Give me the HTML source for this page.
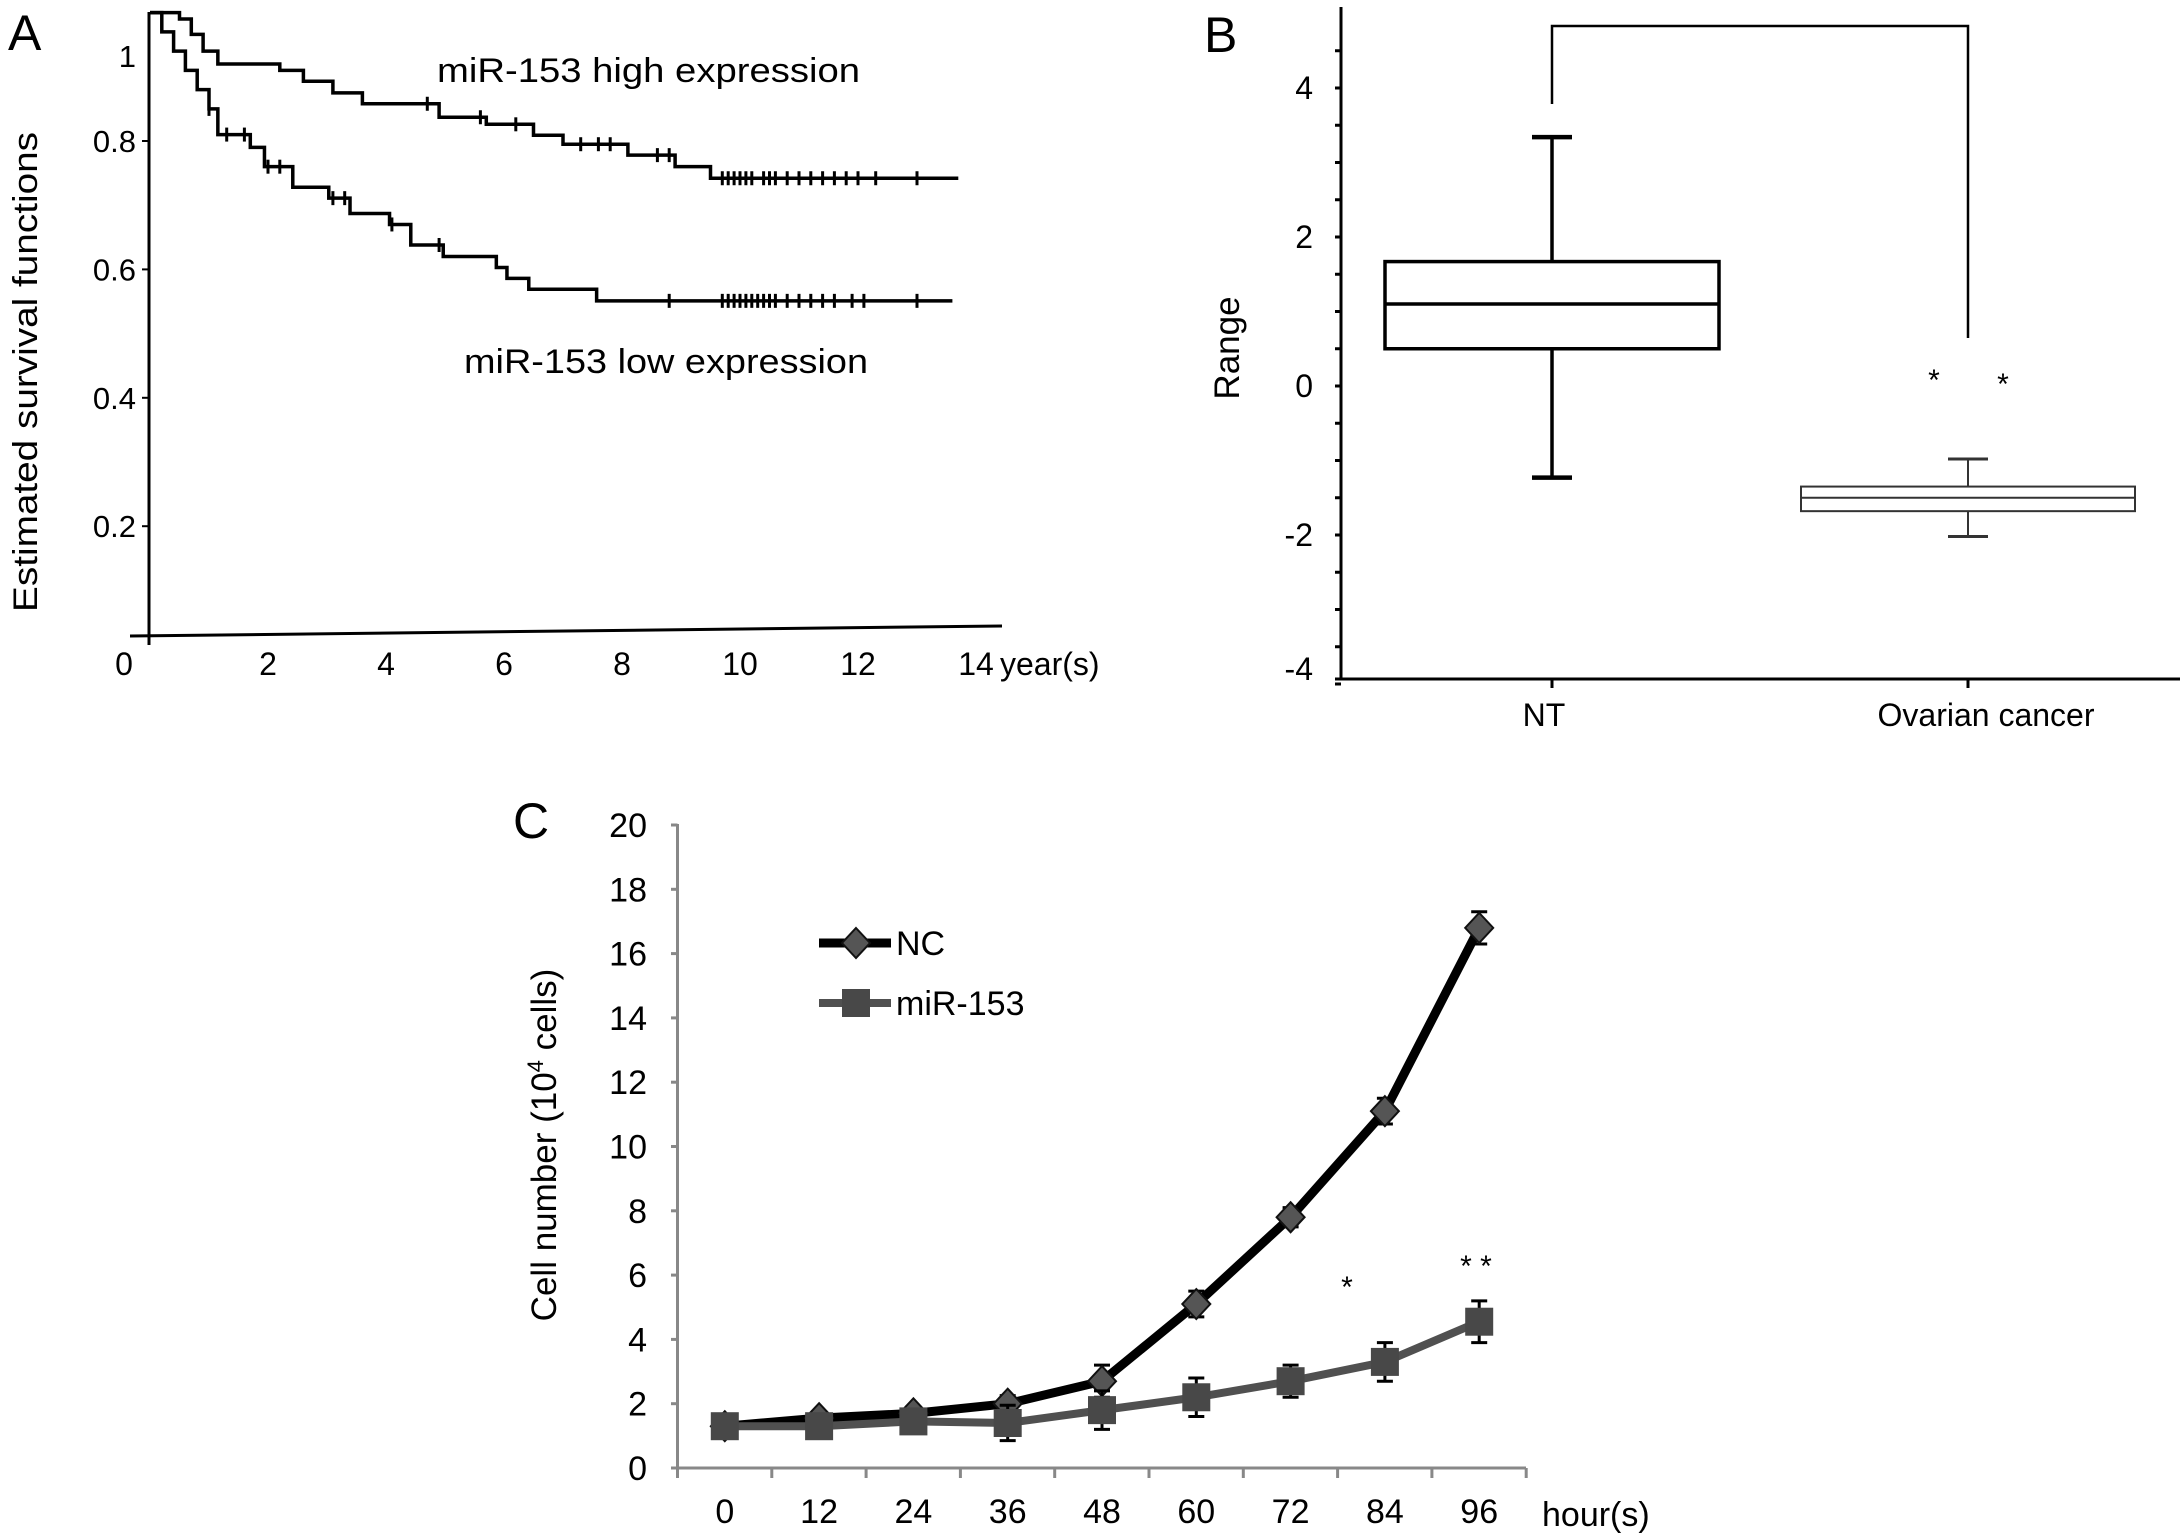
<!DOCTYPE html>
<html><head><meta charset="utf-8">
<style>
html,body{margin:0;padding:0;background:#fff;overflow:hidden;}
svg{display:block;font-family:"Liberation Sans",sans-serif;}
</style></head>
<body>
<svg id="fig" width="2184" height="1537" viewBox="0 0 2184 1537" xmlns="http://www.w3.org/2000/svg">
<g id="pa"></g>
<g id="pb"></g>
<g id="pc"></g>
</svg>
<script>
// ---------- Panel A data ----------
const aXTicks = [0,2,4,6,8,10,12,14];
const aYTicks = [0.2,0.4,0.6,0.8];
const highSteps = [[0,1.0],[0.5,0.99],[0.7,0.966],[0.9,0.94],[1.15,0.92],[2.2,0.91],[2.6,0.893],[3.1,0.875],[3.6,0.858],[4.9,0.837],[5.7,0.826],[6.5,0.809],[7.0,0.795],[8.1,0.778],[8.9,0.76],[9.5,0.742]];
const highEnd = 13.7;
const highCensor = [4.7,5.6,6.2,7.3,7.6,7.8,8.6,8.8,9.7,9.8,9.9,10.0,10.1,10.2,10.4,10.5,10.6,10.8,11.0,11.2,11.4,11.6,11.8,12.0,12.3,13.0];
const lowSteps = [[0,1.0],[0.2,0.97],[0.4,0.94],[0.6,0.91],[0.8,0.88],[1.0,0.85],[1.15,0.81],[1.7,0.79],[1.94,0.76],[2.42,0.728],[3.03,0.711],[3.39,0.687],[4.06,0.67],[4.42,0.638],[4.97,0.62],[5.87,0.603],[6.05,0.586],[6.42,0.569],[7.57,0.551]];
const lowEnd = 13.6;
const lowCensor = [1.0,1.3,1.6,2.0,2.2,3.1,3.3,4.1,4.9,8.8,9.7,9.8,9.9,10.0,10.1,10.2,10.3,10.4,10.5,10.6,10.8,11.0,11.2,11.4,11.6,11.9,12.1,13.0];
// ---------- Panel B data ----------
const bCats = ["NT","Ovarian  cancer"];
const bYTicks = [4,2,0,-2,-4];
const bQ3 = [1.67,-1.35];
const bMed = [1.1,-1.5];
const bQ1 = [0.5,-1.68];
const bMax = [3.34,-0.98];
const bMin = [-1.23,-2.02];
// ---------- Panel C data ----------
const cCats = ["0","12","24","36","48","60","72","84","96"];
const cYTicks = [0,2,4,6,8,10,12,14,16,18,20];
const ncVals = [1.3,1.55,1.7,2.0,2.7,5.1,7.8,11.1,16.8];
const ncErr = [0.1,0.2,0.2,0.25,0.5,0.4,0.3,0.4,0.5];
const miVals = [1.3,1.3,1.45,1.4,1.8,2.2,2.7,3.3,4.55];
const miErr = [0.1,0.2,0.2,0.55,0.6,0.6,0.5,0.6,0.65];

const NS="http://www.w3.org/2000/svg";
function mk(parent, tag, attrs, text){
  const e=document.createElementNS(NS,tag);
  for(const k in attrs) e.setAttribute(k,attrs[k]);
  if(text!==undefined) e.textContent=text;
  parent.appendChild(e); return e;
}

// ===== Panel A =====
(function(){
  const g=document.getElementById('pa');
  const X=t=>150+59*t;
  const Y=v=>141-(v-0.8)*642;
  let e;
  e=mk(g,'text',{x:8,y:50,'font-size':50,transform:'scale(1,1)'},'A');
  
  
  e=mk(g,'line',{x1:149,y1:12,x2:149,y2:645,stroke:'#000','stroke-width':3});
  
  
  e=mk(g,'line',{x1:130,y1:636,x2:1002,y2:626,stroke:'#000','stroke-width':3});
  
  
  aXTicks.forEach(t=>{
    const tx=mk(g,'text',{x:t===0?124:X(t),y:675,'font-size':32,'text-anchor':'middle'},String(t));
    
    
  });
  e=mk(g,'text',{x:1000,y:675,'font-size':32},'year(s)');
  
  
  aYTicks.forEach(v=>{
    const tk=mk(g,'line',{x1:142,y1:Y(v),x2:149,y2:Y(v),stroke:'#000','stroke-width':2});
    
    
    const tx=mk(g,'text',{x:136,y:Y(v)+11,'font-size':31,'text-anchor':'end'},String(v));
    
    
  });
  e=mk(g,'text',{x:136,y:67,'font-size':31,'text-anchor':'end'},'1');
  
  
  e=mk(g,'text',{x:0,y:0,'font-size':34,'text-anchor':'middle',transform:'translate(37,372) rotate(-90)',textLength:480,lengthAdjust:'spacingAndGlyphs'},'Estimated survival  functions');
  
  
  function curve(steps,end,cens,name){
    let d='M'+X(steps[0][0])+' '+Y(steps[0][1]);
    for(let i=1;i<steps.length;i++){
      d+=' H'+X(steps[i][0])+' V'+Y(steps[i][1]);
    }
    d+=' H'+X(end);
    const p=mk(g,'path',{d:d,fill:'none',stroke:'#000','stroke-width':3.5});
    
    
    cens.forEach(t=>{
      let v=steps[0][1];
      steps.forEach(s=>{if(s[0]<=t)v=s[1];});
      const c=mk(g,'line',{x1:X(t),y1:Y(v)-7,x2:X(t),y2:Y(v)+7,stroke:'#000','stroke-width':3});
      
      
    });
  }
  curve(highSteps,highEnd,highCensor,'high-expression-curve');
  curve(lowSteps,lowEnd,lowCensor,'low-expression-curve');
  e=mk(g,'text',{x:437,y:82,'font-size':34,textLength:423,lengthAdjust:'spacingAndGlyphs'},'miR-153  high expression');
  
  
  e=mk(g,'text',{x:464,y:373,'font-size':34,textLength:404,lengthAdjust:'spacingAndGlyphs'},'miR-153  low expression');
  
  
})();

// ===== Panel B =====
(function(){
  const g=document.getElementById('pb');
  const Y=v=>386-74.5*v;
  const cx=[1552,1968];
  const halfW=[167,167];
  let e;
  e=mk(g,'text',{x:1204,y:52,'font-size':50},'B');
  
  
  e=mk(g,'line',{x1:1341,y1:7,x2:1341,y2:680,stroke:'#000','stroke-width':3});
  
  
  e=mk(g,'line',{x1:1335,y1:679,x2:2180,y2:679,stroke:'#000','stroke-width':3});
  
  
  for(let v=-4;v<=4.5;v+=0.5){
    const tk=mk(g,'line',{x1:1335,y1:Y(v),x2:1341,y2:Y(v),stroke:'#000','stroke-width':3});
    
    
  }
  bYTicks.forEach(v=>{
    const tx=mk(g,'text',{x:1313,y:Y(v)+(v===-4?-4:11),'font-size':32,'text-anchor':'end'},String(v));
    
    
  });
  e=mk(g,'text',{x:0,y:0,'font-size':35,'text-anchor':'middle',transform:'translate(1239,348) rotate(-90)'},'Range');
  
  
  bCats.forEach((c,i)=>{
    const tk=mk(g,'line',{x1:cx[i],y1:679,x2:cx[i],y2:688,stroke:'#000','stroke-width':3});
    
    
    const tx=mk(g,'text',{x:cx[i]+(i===1?18:-8),y:726,'font-size':32,'text-anchor':'middle'},c);
    
    
    const sw=i===0?3.5:2, col=i===0?'#000':'#333';
    const wk=mk(g,'line',{x1:cx[i],y1:Y(bMax[i]),x2:cx[i],y2:Y(bMin[i]),stroke:col,'stroke-width':sw});
    
    
    [bMax[i],bMin[i]].forEach(v=>{
      const cap=mk(g,'line',{x1:cx[i]-20,y1:Y(v),x2:cx[i]+20,y2:Y(v),stroke:col,'stroke-width':sw+1});
      
      
    });
    const bx=mk(g,'rect',{x:cx[i]-halfW[i],y:Y(bQ3[i]),width:2*halfW[i],height:Y(bQ1[i])-Y(bQ3[i]),fill:'#fff',stroke:col,'stroke-width':sw});
    
    
    const md=mk(g,'line',{x1:cx[i]-halfW[i],y1:Y(bMed[i]),x2:cx[i]+halfW[i],y2:Y(bMed[i]),stroke:col,'stroke-width':sw});
    
    
  });
  e=mk(g,'path',{d:'M1552 104 V26 H1968 V338',fill:'none',stroke:'#000','stroke-width':2.5});
  
  
  e=mk(g,'text',{x:1934,y:390,'font-size':30,'text-anchor':'middle'},'*');
  
  
  e=mk(g,'text',{x:2003,y:394,'font-size':30,'text-anchor':'middle'},'*');
  
  
})();

// ===== Panel C =====
(function(){
  const g=document.getElementById('pc');
  const X=i=>724.8+94.3*i;
  const Y=v=>1468-32.15*v;
  let e;
  e=mk(g,'text',{x:513,y:838,'font-size':50},'C');
  
  
  e=mk(g,'line',{x1:677.5,y1:824,x2:677.5,y2:1469,stroke:'#888','stroke-width':3});
  
  
  e=mk(g,'line',{x1:671,y1:1468,x2:1526,y2:1468,stroke:'#888','stroke-width':3});
  
  
  cYTicks.forEach(v=>{
    const tk=mk(g,'line',{x1:671,y1:Y(v),x2:677.5,y2:Y(v),stroke:'#888','stroke-width':3});
    
    
    const tx=mk(g,'text',{x:647,y:Y(v)+12,'font-size':34,'text-anchor':'end'},String(v));
    
    
  });
  for(let i=0;i<=cCats.length;i++){
    const tk=mk(g,'line',{x1:677.5+94.3*i,y1:1468,x2:677.5+94.3*i,y2:1478,stroke:'#888','stroke-width':3});
    
    
  }
  cCats.forEach((c,i)=>{
    const tx=mk(g,'text',{x:X(i),y:1523,'font-size':34,'text-anchor':'middle'},c);
    
    
  });
  e=mk(g,'text',{x:1542,y:1526,'font-size':34},'hour(s)');
  
  
  e=mk(g,'text',{x:0,y:0,'font-size':35,'text-anchor':'middle',transform:'translate(556,1145) rotate(-90)'});
  
  
  e.appendChild(document.createTextNode('Cell number (10'));
  mk(e,'tspan',{'font-size':22,dy:-13},'4');
  mk(e,'tspan',{dy:13},' cells)');
  function series(vals,err,col,sw,shape,name){
    const pts=vals.map((v,i)=>X(i)+','+Y(v)).join(' ');
    const pl=mk(g,'polyline',{points:pts,fill:'none',stroke:col,'stroke-width':sw,'stroke-linejoin':'round'});
    
    
    vals.forEach((v,i)=>{
      const x=X(i);
      const eb=mk(g,'path',{d:`M${x} ${Y(v+err[i])} V${Y(v-err[i])} M${x-8} ${Y(v+err[i])} H${x+8} M${x-8} ${Y(v-err[i])} H${x+8}`,stroke:'#000','stroke-width':3,fill:'none'});
      
      
      let m;
      if(shape==='d') m=mk(g,'path',{d:`M${x} ${Y(v)-15} L${x+14} ${Y(v)} L${x} ${Y(v)+15} L${x-14} ${Y(v)} Z`,fill:'#555',stroke:'#111','stroke-width':2});
      else m=mk(g,'rect',{x:x-14,y:Y(v)-14,width:28,height:28,fill:'#484848'});
      
      
    });
  }
  series(ncVals,ncErr,'#000',9,'d','nc');
  series(miVals,miErr,'#505050',8,'s','mir-153');
  e=mk(g,'line',{x1:819,y1:943,x2:891,y2:943,stroke:'#000','stroke-width':9});
  
  
  e=mk(g,'path',{d:'M856 928 L870 943 L856 958 L842 943 Z',fill:'#555',stroke:'#111','stroke-width':2});
  
  
  e=mk(g,'text',{x:896,y:955,'font-size':34},'NC');
  
  
  e=mk(g,'line',{x1:819,y1:1003,x2:891,y2:1003,stroke:'#505050','stroke-width':8});
  
  
  e=mk(g,'rect',{x:842,y:989,width:28,height:28,fill:'#484848'});
  
  
  e=mk(g,'text',{x:896,y:1015,'font-size':34},'miR-153');
  
  
  e=mk(g,'text',{x:1347,y:1297,'font-size':30,'text-anchor':'middle'},'*');
  
  
  e=mk(g,'text',{x:1476,y:1276,'font-size':30,'text-anchor':'middle'},'* *');
  
  
})();
</script>
</body></html>
